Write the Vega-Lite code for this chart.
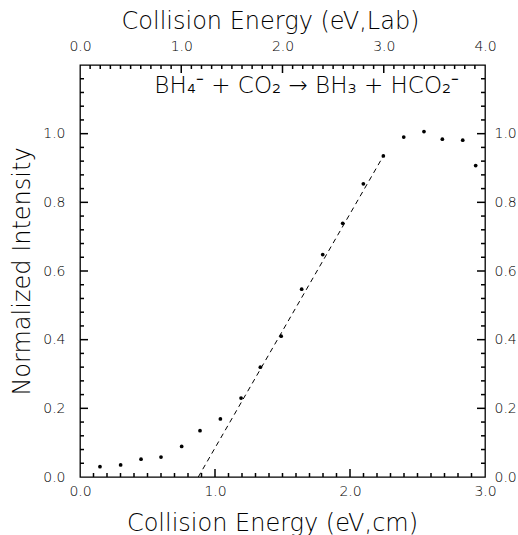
{
  "$schema": "https://vega.github.io/schema/vega-lite/v6.json",
  "width": 405,
  "height": 412,
  "autosize": {"type": "none"},
  "padding": {"left": 80, "top": 65, "right": 33, "bottom": 58},
  "background": "white",
  "config": {
    "view": {"stroke": "black", "strokeWidth": 1.3},
    "axis": {
      "grid": false,
      "domain": false,
      "ticks": false,
      "tickSize": 0,
      "labelColor": "black",
      "titleColor": "black",
      "labelFont": "DejaVu Sans",
      "titleFont": "DejaVu Sans",
      "labelFontWeight": 200,
      "titleFontWeight": 200,
      "labelFontSize": 14,
      "titleFontSize": 24,
      "labelFlush": false,
      "labelOverlap": false
    }
  },
  "datasets": {
    "points": [
      {"E": 0.148, "I": 0.030},
      {"E": 0.301, "I": 0.035},
      {"E": 0.452, "I": 0.052},
      {"E": 0.600, "I": 0.058},
      {"E": 0.753, "I": 0.089},
      {"E": 0.889, "I": 0.135},
      {"E": 1.040, "I": 0.169},
      {"E": 1.193, "I": 0.230},
      {"E": 1.336, "I": 0.320},
      {"E": 1.490, "I": 0.410},
      {"E": 1.642, "I": 0.547},
      {"E": 1.798, "I": 0.648},
      {"E": 1.946, "I": 0.739},
      {"E": 2.099, "I": 0.854},
      {"E": 2.247, "I": 0.935},
      {"E": 2.398, "I": 0.990},
      {"E": 2.548, "I": 1.006},
      {"E": 2.684, "I": 0.984},
      {"E": 2.835, "I": 0.981},
      {"E": 2.931, "I": 0.907}
    ],
    "fit": [
      {"E": 0.876, "I": 0.0},
      {"E": 2.247, "I": 0.935}
    ],
    "note": [
      {"lab": 2.24, "I": 1.118, "label": "BH₄⁻  +  CO₂  →  BH₃  +  HCO₂⁻"}
    ],
    "cmTicks": [
      {"v": 1, "kind": "major"}, {"v": 2, "kind": "major"},
      {"v": 0.1, "kind": "minor"}, {"v": 0.2, "kind": "minor"}, {"v": 0.3, "kind": "minor"}, {"v": 0.4, "kind": "minor"}, {"v": 0.5, "kind": "minor"},
      {"v": 0.6, "kind": "minor"}, {"v": 0.7, "kind": "minor"}, {"v": 0.8, "kind": "minor"}, {"v": 0.9, "kind": "minor"},
      {"v": 1.1, "kind": "minor"}, {"v": 1.2, "kind": "minor"}, {"v": 1.3, "kind": "minor"}, {"v": 1.4, "kind": "minor"}, {"v": 1.5, "kind": "minor"},
      {"v": 1.6, "kind": "minor"}, {"v": 1.7, "kind": "minor"}, {"v": 1.8, "kind": "minor"}, {"v": 1.9, "kind": "minor"},
      {"v": 2.1, "kind": "minor"}, {"v": 2.2, "kind": "minor"}, {"v": 2.3, "kind": "minor"}, {"v": 2.4, "kind": "minor"}, {"v": 2.5, "kind": "minor"},
      {"v": 2.6, "kind": "minor"}, {"v": 2.7, "kind": "minor"}, {"v": 2.8, "kind": "minor"}, {"v": 2.9, "kind": "minor"}
    ],
    "labTicks": [
      {"v": 1, "kind": "major"}, {"v": 2, "kind": "major"}, {"v": 3, "kind": "major"},
      {"v": 0.1, "kind": "minor"}, {"v": 0.2, "kind": "minor"}, {"v": 0.3, "kind": "minor"}, {"v": 0.4, "kind": "minor"}, {"v": 0.5, "kind": "minor"},
      {"v": 0.6, "kind": "minor"}, {"v": 0.7, "kind": "minor"}, {"v": 0.8, "kind": "minor"}, {"v": 0.9, "kind": "minor"},
      {"v": 1.1, "kind": "minor"}, {"v": 1.2, "kind": "minor"}, {"v": 1.3, "kind": "minor"}, {"v": 1.4, "kind": "minor"}, {"v": 1.5, "kind": "minor"},
      {"v": 1.6, "kind": "minor"}, {"v": 1.7, "kind": "minor"}, {"v": 1.8, "kind": "minor"}, {"v": 1.9, "kind": "minor"},
      {"v": 2.1, "kind": "minor"}, {"v": 2.2, "kind": "minor"}, {"v": 2.3, "kind": "minor"}, {"v": 2.4, "kind": "minor"}, {"v": 2.5, "kind": "minor"},
      {"v": 2.6, "kind": "minor"}, {"v": 2.7, "kind": "minor"}, {"v": 2.8, "kind": "minor"}, {"v": 2.9, "kind": "minor"},
      {"v": 3.1, "kind": "minor"}, {"v": 3.2, "kind": "minor"}, {"v": 3.3, "kind": "minor"}, {"v": 3.4, "kind": "minor"}, {"v": 3.5, "kind": "minor"},
      {"v": 3.6, "kind": "minor"}, {"v": 3.7, "kind": "minor"}, {"v": 3.8, "kind": "minor"}, {"v": 3.9, "kind": "minor"}
    ],
    "yTicks": [
      {"v": 0.2, "kind": "major"}, {"v": 0.4, "kind": "major"}, {"v": 0.6, "kind": "major"}, {"v": 0.8, "kind": "major"}, {"v": 1.0, "kind": "major"},
      {"v": 0.04, "kind": "minor"}, {"v": 0.08, "kind": "minor"}, {"v": 0.12, "kind": "minor"}, {"v": 0.16, "kind": "minor"},
      {"v": 0.24, "kind": "minor"}, {"v": 0.28, "kind": "minor"}, {"v": 0.32, "kind": "minor"}, {"v": 0.36, "kind": "minor"},
      {"v": 0.44, "kind": "minor"}, {"v": 0.48, "kind": "minor"}, {"v": 0.52, "kind": "minor"}, {"v": 0.56, "kind": "minor"},
      {"v": 0.64, "kind": "minor"}, {"v": 0.68, "kind": "minor"}, {"v": 0.72, "kind": "minor"}, {"v": 0.76, "kind": "minor"},
      {"v": 0.84, "kind": "minor"}, {"v": 0.88, "kind": "minor"}, {"v": 0.92, "kind": "minor"}, {"v": 0.96, "kind": "minor"},
      {"v": 1.04, "kind": "minor"}, {"v": 1.08, "kind": "minor"}, {"v": 1.12, "kind": "minor"}, {"v": 1.16, "kind": "minor"}
    ]
  },
  "layer": [
    {
      "data": {"name": "points"},
      "mark": {"type": "point", "filled": true, "color": "black", "size": 14, "opacity": 1},
      "encoding": {
        "x": {
          "field": "E", "type": "quantitative",
          "scale": {"domain": [0, 3], "nice": false},
          "axis": {
            "orient": "bottom", "values": [0, 1, 2, 3], "format": ".1f",
            "labelPadding": 7, "labelDx": -4,
            "title": "Collision Energy (eV,cm)",
            "titleX": 192, "titleY": 53, "titleBaseline": "alphabetic", "titleAlign": "center"
          }
        },
        "y": {
          "field": "I", "type": "quantitative",
          "scale": {"domain": [0, 1.2], "nice": false},
          "axis": {
            "orient": "left", "values": [0, 0.2, 0.4, 0.6, 0.8, 1.0], "format": ".1f",
            "labelPadding": 15,
            "title": "Normalized Intensity",
            "titleX": -51, "titleY": 206, "titleAngle": -90, "titleBaseline": "alphabetic", "titleAlign": "center"
          }
        }
      }
    },
    {
      "data": {"name": "fit"},
      "mark": {"type": "line", "color": "black", "strokeWidth": 1, "strokeDash": [5, 4]},
      "encoding": {
        "x": {"field": "E", "type": "quantitative", "scale": {"domain": [0, 3], "nice": false}, "axis": null},
        "y": {"field": "I", "type": "quantitative", "scale": {"domain": [0, 1.2], "nice": false}, "axis": null}
      }
    },
    {
      "data": {"name": "note"},
      "mark": {"type": "text", "font": "DejaVu Sans", "fontWeight": 200, "fontSize": 23, "align": "center", "baseline": "alphabetic", "color": "black"},
      "encoding": {
        "x": {
          "field": "lab", "type": "quantitative",
          "scale": {"domain": [0, 4], "nice": false},
          "axis": {
            "orient": "top", "values": [0, 1, 2, 3, 4], "format": ".1f",
            "labelPadding": 12,
            "title": "Collision Energy (eV,Lab)",
            "titleX": 190, "titleY": -37, "titleBaseline": "alphabetic", "titleAlign": "center"
          }
        },
        "y": {
          "field": "I", "type": "quantitative",
          "scale": {"domain": [0, 1.2], "nice": false},
          "axis": {
            "orient": "right", "values": [0, 0.2, 0.4, 0.6, 0.8, 1.0], "format": ".1f",
            "labelPadding": 9, "title": null
          }
        },
        "text": {"field": "label"}
      }
    },
    {
      "data": {"name": "cmTicks"},
      "transform": [{"filter": "datum.kind == 'major'"}],
      "mark": {"type": "tick", "orient": "vertical", "color": "black", "thickness": 1.5, "size": 8, "opacity": 1},
      "encoding": {
        "x": {"field": "v", "type": "quantitative", "scale": {"domain": [0, 3], "nice": false}, "axis": null},
        "y": {"datum": 0.0117, "type": "quantitative", "scale": {"domain": [0, 1.2], "nice": false}, "axis": null}
      }
    },
    {
      "data": {"name": "cmTicks"},
      "transform": [{"filter": "datum.kind == 'minor'"}],
      "mark": {"type": "tick", "orient": "vertical", "color": "black", "thickness": 1.5, "size": 4, "opacity": 1},
      "encoding": {
        "x": {"field": "v", "type": "quantitative", "scale": {"domain": [0, 3], "nice": false}, "axis": null},
        "y": {"datum": 0.0058, "type": "quantitative", "scale": {"domain": [0, 1.2], "nice": false}, "axis": null}
      }
    },
    {
      "data": {"name": "labTicks"},
      "transform": [{"filter": "datum.kind == 'major'"}],
      "mark": {"type": "tick", "orient": "vertical", "color": "black", "thickness": 1.5, "size": 8, "opacity": 1},
      "encoding": {
        "x": {"field": "v", "type": "quantitative", "scale": {"domain": [0, 4], "nice": false}, "axis": null},
        "y": {"datum": 1.1883, "type": "quantitative", "scale": {"domain": [0, 1.2], "nice": false}, "axis": null}
      }
    },
    {
      "data": {"name": "labTicks"},
      "transform": [{"filter": "datum.kind == 'minor'"}],
      "mark": {"type": "tick", "orient": "vertical", "color": "black", "thickness": 1.5, "size": 4, "opacity": 1},
      "encoding": {
        "x": {"field": "v", "type": "quantitative", "scale": {"domain": [0, 4], "nice": false}, "axis": null},
        "y": {"datum": 1.1942, "type": "quantitative", "scale": {"domain": [0, 1.2], "nice": false}, "axis": null}
      }
    },
    {
      "data": {"name": "yTicks"},
      "transform": [{"filter": "datum.kind == 'major'"}],
      "mark": {"type": "tick", "orient": "horizontal", "color": "black", "thickness": 1.5, "size": 8, "opacity": 1},
      "encoding": {
        "y": {"field": "v", "type": "quantitative", "scale": {"domain": [0, 1.2], "nice": false}, "axis": null},
        "x": {"datum": 0.0296, "type": "quantitative", "scale": {"domain": [0, 3], "nice": false}, "axis": null}
      }
    },
    {
      "data": {"name": "yTicks"},
      "transform": [{"filter": "datum.kind == 'minor'"}],
      "mark": {"type": "tick", "orient": "horizontal", "color": "black", "thickness": 1.5, "size": 4, "opacity": 1},
      "encoding": {
        "y": {"field": "v", "type": "quantitative", "scale": {"domain": [0, 1.2], "nice": false}, "axis": null},
        "x": {"datum": 0.0148, "type": "quantitative", "scale": {"domain": [0, 3], "nice": false}, "axis": null}
      }
    },
    {
      "data": {"name": "yTicks"},
      "transform": [{"filter": "datum.kind == 'major'"}],
      "mark": {"type": "tick", "orient": "horizontal", "color": "black", "thickness": 1.5, "size": 8, "opacity": 1},
      "encoding": {
        "y": {"field": "v", "type": "quantitative", "scale": {"domain": [0, 1.2], "nice": false}, "axis": null},
        "x": {"datum": 2.9704, "type": "quantitative", "scale": {"domain": [0, 3], "nice": false}, "axis": null}
      }
    },
    {
      "data": {"name": "yTicks"},
      "transform": [{"filter": "datum.kind == 'minor'"}],
      "mark": {"type": "tick", "orient": "horizontal", "color": "black", "thickness": 1.5, "size": 4, "opacity": 1},
      "encoding": {
        "y": {"field": "v", "type": "quantitative", "scale": {"domain": [0, 1.2], "nice": false}, "axis": null},
        "x": {"datum": 2.9852, "type": "quantitative", "scale": {"domain": [0, 3], "nice": false}, "axis": null}
      }
    }
  ],
  "resolve": {"scale": {"x": "independent", "y": "independent"}}
}
